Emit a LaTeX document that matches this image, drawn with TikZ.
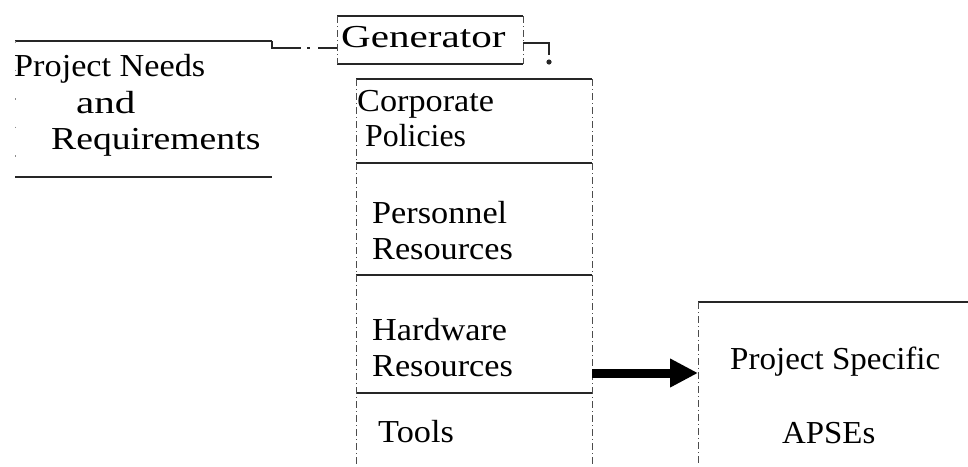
\documentclass[tikz,border=0pt]{standalone}
\usepackage{fontspec}
\setmainfont{Liberation Serif}[FakeStretch=1.07]
\usetikzlibrary{arrows.meta}
\newcommand\widen[2]{\scalebox{#1}[1]{#2}}
\begin{document}
\begin{tikzpicture}[x=1pt,y=-1pt,
  txt/.style={anchor=base west,inner sep=0pt,font=\fontsize{32}{38}\selectfont},
  rule/.style={line width=1.2pt,black!85},
  side/.style={line width=0.9pt,black!70,dash pattern=on 7pt off 3pt on 1pt off 3pt},
  faint/.style={line width=0.9pt,black!45,dash pattern=on 1.5pt off 27pt},
  link/.style={line width=1.2pt,black!85,dash pattern=on 36pt off 6pt on 3pt off 8pt on 60pt},
  blank/.style={draw=none,inner sep=0pt,outer sep=0pt,anchor=north west},
  bigarrow/.style={line width=9pt,-{Triangle[length=28pt,width=27pt]}}]
\useasboundingbox (0,0) rectangle (968,466);

% frames (empty nodes, outlined piece by piece below)
\node[blank,minimum width=257,minimum height=136] (pn) at (15,41) {};
\node[blank,minimum width=186,minimum height=48] (gen) at (337,16) {};
\node[blank,minimum width=236,minimum height=84] (corp) at (356,79) {};
\node[blank,minimum width=236,minimum height=112] (pers) at (356,163) {};
\node[blank,minimum width=236,minimum height=118] (hw) at (356,275) {};
\node[blank,minimum width=236,minimum height=73] (tools) at (356,393) {};
\node[blank,minimum width=270,minimum height=164] (apse) at (698,302) {};
\coordinate (drop) at (549,62);

% project needs frame
\draw[rule] (pn.north west) -- (pn.north east);
\draw[rule] (pn.south west) -- (pn.south east);
\draw[faint] (pn.north west) -- (pn.south west);

% generator frame
\draw[rule] (gen.north west) -- (gen.north east);
\draw[rule] (gen.south west) -- (gen.south east);
\draw[side] (gen.north west) -- (gen.south west);
\draw[side] (gen.north east) -- (gen.south east);

% column of resources
\draw[rule] (corp.north west) -- (corp.north east);
\draw[rule] (corp.south west) -- (corp.south east);
\draw[rule] (pers.south west) -- (pers.south east);
\draw[rule] (hw.south west) -- (hw.south east);
\draw[side] (corp.north west) -- (tools.south west);
\draw[side] (corp.north east) -- (tools.south east);

% result frame
\draw[rule] (apse.north west) -- (apse.north east);
\draw[side] (apse.north west) -- (apse.south west);

% connectors
\draw[link] (pn.north east) -- ++(0,7) -- ([yshift=16pt]gen.south west);
\draw[rule] ([yshift=-27pt]gen.north east) -| ([yshift=7pt]drop);
\fill[black!85] (drop) circle (2.6);
\draw[bigarrow] ([yshift=-39pt]hw.east) -- ([yshift=-39pt]hw.east -| apse.west);

% labels
\node[txt] (tpn1) at (14,76) {Project Needs};
\node[txt] (tpn2) at (76,113) {\widen{1.2}{and}};
\node[txt] (tpn3) at (51,149) {\widen{1.1}{Requirements}};
\node[txt] (tgen) at (341,47) {\widen{1.2}{Generator}};
\node[txt] (tcorp1) at (357,111) {Corporate};
\node[txt] (tcorp2) at (365,146) {\widen{0.93}{Policies}};
\node[txt] (tpers1) at (372,223) {Personnel};
\node[txt] (tpers2) at (372,259) {Resources};
\node[txt] (thw1) at (372,340) {Hardware};
\node[txt] (thw2) at (372,376) {Resources};
\node[txt] (ttools) at (378,442) {Tools};
\node[txt] (tap1) at (730,369) {\widen{0.965}{Project Specific}};
\node[txt] (tap2) at (782,443) {\widen{0.96}{APSEs}};
\end{tikzpicture}
\end{document}
